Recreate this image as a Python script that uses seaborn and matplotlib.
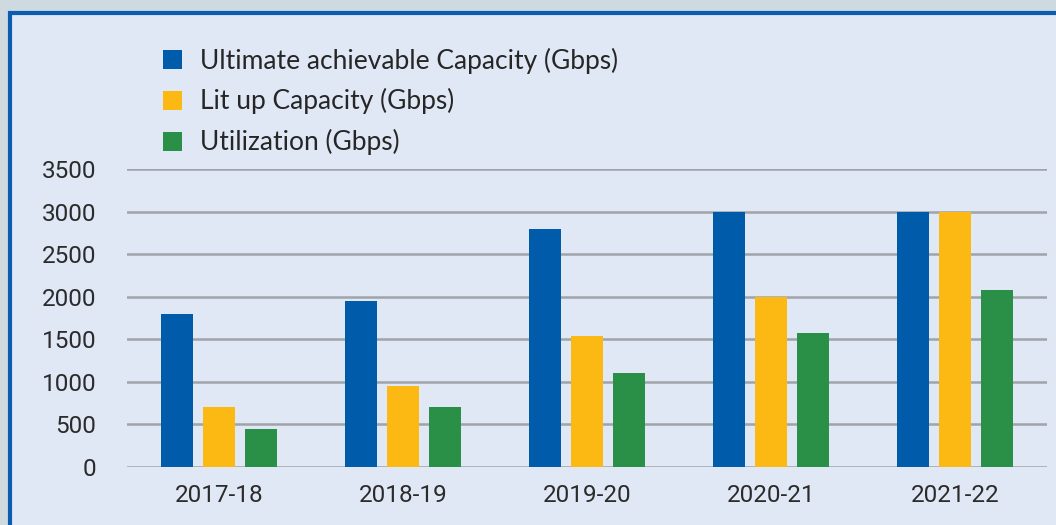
import matplotlib.pyplot as plt
import matplotlib.patches as mpatches
import pandas as pd
import seaborn as sns

years = ['2017-18', '2018-19', '2019-20', '2020-21', '2021-22']
ultimate = [1800, 1950, 2800, 3000, 3000]
lit_up = [700, 950, 1540, 2000, 3000]
utilization = [450, 700, 1100, 1575, 2080]
series_names = ['Ultimate achievable Capacity (Gbps)', 'Lit up Capacity (Gbps)', 'Utilization (Gbps)']
colors = ['#005baa', '#fdb913', '#2a8f47']

df = pd.DataFrame({
    'year': years * 3,
    'value': ultimate + lit_up + utilization,
    'series': [series_names[0]] * 5 + [series_names[1]] * 5 + [series_names[2]] * 5,
})

sns.set_theme(style='white')
plt.rcParams['font.family'] = ['Roboto', 'DejaVu Sans']

fig = plt.figure(figsize=(10.56, 5.25), dpi=100)
fig.patch.set_facecolor('#cfdae0')
# panel with blue frame
W, H = 1056, 525
panel = mpatches.Rectangle((9.5 / W, -0.05), 1.1, (H - 12.5) / H + 0.05,
                           transform=fig.transFigure, facecolor='#e0e8f5',
                           edgecolor='#0a5cb0', linewidth=3, zorder=-5)
fig.patches.append(panel)

ax = fig.add_axes([127 / W, 58 / H, 920 / W, 298 / H])
ax.set_facecolor('none')
sns.barplot(data=df, x='year', y='value', hue='series', palette=colors,
            width=0.685, gap=0.24, saturation=1, linewidth=0, ax=ax,
            zorder=3, legend=True)

ax.set_ylim(0, 3500)
ax.set_xlim(-0.5, 4.5)
ax.set_yticks(range(0, 3501, 500))
ax.yaxis.grid(True, color='#a0a3a8', linewidth=1.8, zorder=1)
ax.set_axisbelow(True)
for s in ax.spines.values():
    s.set_visible(False)
ax.set_xlabel('')
ax.set_ylabel('')
ax.tick_params(axis='y', length=0, pad=22, labelsize=17.5, labelcolor='#2b2b2b')
ax.tick_params(axis='x', length=0, pad=12, labelsize=17.5, labelcolor='#2b2b2b')

handles, labels = ax.get_legend_handles_labels()
ax.legend(handles, labels, loc='upper left', bbox_to_anchor=(145 / W, 1 - 29 / H),
          bbox_transform=fig.transFigure, frameon=False, handlelength=0.72,
          handleheight=0.72, handletextpad=0.65, labelspacing=0.56,
          borderpad=0.2, prop={'family': ['Lato', 'DejaVu Sans'], 'size': 19})

fig.savefig('out.png', dpi=100, facecolor=fig.get_facecolor())
